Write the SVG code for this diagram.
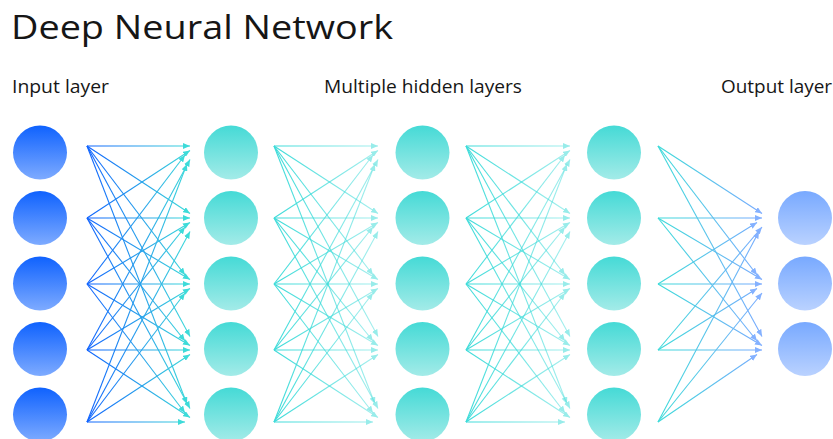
<svg xmlns="http://www.w3.org/2000/svg" width="833" height="439" viewBox="0 0 833 439">
  <defs>
    <!-- node fills -->
    <linearGradient id="fillInput" x1="0" y1="0" x2="0" y2="1">
      <stop offset="0" stop-color="#0f62fe"/>
      <stop offset="1" stop-color="#7eabff"/>
    </linearGradient>
    <linearGradient id="fillHidden" x1="0" y1="0" x2="0" y2="1">
      <stop offset="0" stop-color="#45dad6"/>
      <stop offset="1" stop-color="#a3ebe8"/>
    </linearGradient>
    <linearGradient id="fillOutput" x1="0" y1="0" x2="0" y2="1">
      <stop offset="0" stop-color="#78a9ff"/>
      <stop offset="1" stop-color="#bad2ff"/>
    </linearGradient>
    <!-- connector strokes, one per layer gap -->
    <linearGradient id="strokeA" gradientUnits="userSpaceOnUse" x1="87" y1="0" x2="190" y2="0">
      <stop offset="0" stop-color="#0f62fe"/>
      <stop offset="1" stop-color="#3ddbd9"/>
    </linearGradient>
    <linearGradient id="strokeB" gradientUnits="userSpaceOnUse" x1="274" y1="0" x2="378" y2="0">
      <stop offset="0" stop-color="#3ddbd9"/>
      <stop offset="1" stop-color="#3ddbd9" stop-opacity="0.45"/>
    </linearGradient>
    <linearGradient id="strokeC" gradientUnits="userSpaceOnUse" x1="466" y1="0" x2="570" y2="0">
      <stop offset="0" stop-color="#3ddbd9"/>
      <stop offset="1" stop-color="#3ddbd9" stop-opacity="0.45"/>
    </linearGradient>
    <linearGradient id="strokeD" gradientUnits="userSpaceOnUse" x1="658" y1="0" x2="762" y2="0">
      <stop offset="0" stop-color="#3ddbd9"/>
      <stop offset="1" stop-color="#78a9ff"/>
    </linearGradient>
    <marker id="headA" markerUnits="userSpaceOnUse" markerWidth="7" markerHeight="6" refX="7" refY="3" orient="auto">
      <path d="M0,0 L7,3 L0,6 z" fill="#3ddbd9"/>
    </marker>
    <marker id="headB" markerUnits="userSpaceOnUse" markerWidth="7" markerHeight="6" refX="7" refY="3" orient="auto">
      <path d="M0,0 L7,3 L0,6 z" fill="#98ecea"/>
    </marker>
    <marker id="headD" markerUnits="userSpaceOnUse" markerWidth="7" markerHeight="6" refX="7" refY="3" orient="auto">
      <path d="M0,0 L7,3 L0,6 z" fill="#84b1ff"/>
    </marker>
  </defs>
  <style>
    .title { font-family: "Open Sans", "Noto Sans", "Liberation Sans", sans-serif; font-size: 33.5px; fill: #161616; }
    .label { font-family: "Open Sans", "Noto Sans", "Liberation Sans", sans-serif; font-size: 18.5px; fill: #161616; }
    .input { fill: url(#fillInput); }
    .hidden { fill: url(#fillHidden); }
    .output { fill: url(#fillOutput); }
    .edge { fill: none; stroke-width: 1.1; }
    .ga line { stroke: url(#strokeA); marker-end: url(#headA); }
    .gb line { stroke: url(#strokeB); marker-end: url(#headB); }
    .gc line { stroke: url(#strokeC); marker-end: url(#headB); }
    .gd line { stroke: url(#strokeD); marker-end: url(#headD); }
  </style>

  <rect width="833" height="439" fill="#ffffff"/>

  <text class="title" x="11" y="38.5" textLength="382" lengthAdjust="spacingAndGlyphs">Deep Neural Network</text>
  <text class="label" x="12" y="93" textLength="97" lengthAdjust="spacingAndGlyphs">Input layer</text>
  <text class="label" x="324" y="93" textLength="198" lengthAdjust="spacingAndGlyphs">Multiple hidden layers</text>
  <text class="label" x="721" y="93" textLength="111" lengthAdjust="spacingAndGlyphs">Output layer</text>

  <g id="connectors" class="edge">
    <!-- input layer -> hidden layer 1 -->
    <g class="ga">
      <line x1="87" y1="146" x2="190" y2="146"/>
      <line x1="87" y1="146" x2="190" y2="213.5"/>
      <line x1="87" y1="146" x2="185" y2="275"/>
      <line x1="87" y1="146" x2="190" y2="336.5"/>
      <line x1="87" y1="146" x2="187" y2="404"/>
      <line x1="87" y1="218" x2="190" y2="150.5"/>
      <line x1="87" y1="218" x2="190" y2="218"/>
      <line x1="87" y1="218" x2="190" y2="279.5"/>
      <line x1="87" y1="218" x2="185" y2="341"/>
      <line x1="87" y1="218" x2="190" y2="408.5"/>
      <line x1="87" y1="284" x2="185" y2="155"/>
      <line x1="87" y1="284" x2="190" y2="222.5"/>
      <line x1="87" y1="284" x2="190" y2="284"/>
      <line x1="87" y1="284" x2="190" y2="345.5"/>
      <line x1="87" y1="284" x2="185" y2="413"/>
      <line x1="87" y1="350" x2="190" y2="159.5"/>
      <line x1="87" y1="350" x2="185" y2="227"/>
      <line x1="87" y1="350" x2="190" y2="288.5"/>
      <line x1="87" y1="350" x2="190" y2="350"/>
      <line x1="87" y1="350" x2="190" y2="417.5"/>
      <line x1="87" y1="422" x2="187" y2="164"/>
      <line x1="87" y1="422" x2="190" y2="231.5"/>
      <line x1="87" y1="422" x2="185" y2="293"/>
      <line x1="87" y1="422" x2="190" y2="354.5"/>
      <line x1="87" y1="422" x2="185" y2="422"/>
    </g>
    <!-- hidden layer 1 -> hidden layer 2 -->
    <g class="gb">
      <line x1="274" y1="146" x2="378" y2="146"/>
      <line x1="274" y1="146" x2="378" y2="213.5"/>
      <line x1="274" y1="146" x2="373" y2="275"/>
      <line x1="274" y1="146" x2="378" y2="336.5"/>
      <line x1="274" y1="146" x2="375" y2="404"/>
      <line x1="274" y1="218" x2="378" y2="150.5"/>
      <line x1="274" y1="218" x2="378" y2="218"/>
      <line x1="274" y1="218" x2="378" y2="279.5"/>
      <line x1="274" y1="218" x2="373" y2="341"/>
      <line x1="274" y1="218" x2="378" y2="408.5"/>
      <line x1="274" y1="284" x2="373" y2="155"/>
      <line x1="274" y1="284" x2="378" y2="222.5"/>
      <line x1="274" y1="284" x2="378" y2="284"/>
      <line x1="274" y1="284" x2="378" y2="345.5"/>
      <line x1="274" y1="284" x2="373" y2="413"/>
      <line x1="274" y1="350" x2="378" y2="159.5"/>
      <line x1="274" y1="350" x2="373" y2="227"/>
      <line x1="274" y1="350" x2="378" y2="288.5"/>
      <line x1="274" y1="350" x2="378" y2="350"/>
      <line x1="274" y1="350" x2="378" y2="417.5"/>
      <line x1="274" y1="422" x2="375" y2="164"/>
      <line x1="274" y1="422" x2="378" y2="231.5"/>
      <line x1="274" y1="422" x2="373" y2="293"/>
      <line x1="274" y1="422" x2="378" y2="354.5"/>
      <line x1="274" y1="422" x2="373" y2="422"/>
    </g>
    <!-- hidden layer 2 -> hidden layer 3 -->
    <g class="gc">
      <line x1="466" y1="146" x2="570" y2="146"/>
      <line x1="466" y1="146" x2="570" y2="213.5"/>
      <line x1="466" y1="146" x2="565" y2="275"/>
      <line x1="466" y1="146" x2="570" y2="336.5"/>
      <line x1="466" y1="146" x2="567" y2="404"/>
      <line x1="466" y1="218" x2="570" y2="150.5"/>
      <line x1="466" y1="218" x2="570" y2="218"/>
      <line x1="466" y1="218" x2="570" y2="279.5"/>
      <line x1="466" y1="218" x2="565" y2="341"/>
      <line x1="466" y1="218" x2="570" y2="408.5"/>
      <line x1="466" y1="284" x2="565" y2="155"/>
      <line x1="466" y1="284" x2="570" y2="222.5"/>
      <line x1="466" y1="284" x2="570" y2="284"/>
      <line x1="466" y1="284" x2="570" y2="345.5"/>
      <line x1="466" y1="284" x2="565" y2="413"/>
      <line x1="466" y1="350" x2="570" y2="159.5"/>
      <line x1="466" y1="350" x2="565" y2="227"/>
      <line x1="466" y1="350" x2="570" y2="288.5"/>
      <line x1="466" y1="350" x2="570" y2="350"/>
      <line x1="466" y1="350" x2="570" y2="417.5"/>
      <line x1="466" y1="422" x2="567" y2="164"/>
      <line x1="466" y1="422" x2="570" y2="231.5"/>
      <line x1="466" y1="422" x2="565" y2="293"/>
      <line x1="466" y1="422" x2="570" y2="354.5"/>
      <line x1="466" y1="422" x2="565" y2="422"/>
    </g>
    <!-- hidden layer 3 -> output layer -->
    <g class="gd">
      <line x1="658" y1="146" x2="762" y2="213.5"/>
      <line x1="658" y1="146" x2="757" y2="275"/>
      <line x1="658" y1="146" x2="762" y2="336.5"/>
      <line x1="658" y1="218" x2="762" y2="218"/>
      <line x1="658" y1="218" x2="762" y2="279.5"/>
      <line x1="658" y1="218" x2="757" y2="341"/>
      <line x1="658" y1="284" x2="757" y2="222.5"/>
      <line x1="658" y1="284" x2="762" y2="284"/>
      <line x1="658" y1="284" x2="762" y2="345.5"/>
      <line x1="658" y1="350" x2="762" y2="227"/>
      <line x1="658" y1="350" x2="757" y2="288.5"/>
      <line x1="658" y1="350" x2="762" y2="350"/>
      <line x1="658" y1="422" x2="759" y2="231.5"/>
      <line x1="658" y1="422" x2="762" y2="293"/>
      <line x1="658" y1="422" x2="757" y2="354.5"/>
    </g>
  </g>

  <!-- input layer -->
  <g id="in1"><circle class="input" cx="40" cy="152.5" r="27"/></g>
  <g id="in2"><circle class="input" cx="40" cy="218" r="27"/></g>
  <g id="in3"><circle class="input" cx="40" cy="283.5" r="27"/></g>
  <g id="in4"><circle class="input" cx="40" cy="349" r="27"/></g>
  <g id="in5"><circle class="input" cx="40" cy="414.5" r="27"/></g>

  <!-- hidden layer 1 -->
  <g id="h1n1"><circle class="hidden" cx="231" cy="152.5" r="27"/></g>
  <g id="h1n2"><circle class="hidden" cx="231" cy="218" r="27"/></g>
  <g id="h1n3"><circle class="hidden" cx="231" cy="283.5" r="27"/></g>
  <g id="h1n4"><circle class="hidden" cx="231" cy="349" r="27"/></g>
  <g id="h1n5"><circle class="hidden" cx="231" cy="414.5" r="27"/></g>

  <!-- hidden layer 2 -->
  <g id="h2n1"><circle class="hidden" cx="422.5" cy="152.5" r="27"/></g>
  <g id="h2n2"><circle class="hidden" cx="422.5" cy="218" r="27"/></g>
  <g id="h2n3"><circle class="hidden" cx="422.5" cy="283.5" r="27"/></g>
  <g id="h2n4"><circle class="hidden" cx="422.5" cy="349" r="27"/></g>
  <g id="h2n5"><circle class="hidden" cx="422.5" cy="414.5" r="27"/></g>

  <!-- hidden layer 3 -->
  <g id="h3n1"><circle class="hidden" cx="614" cy="152.5" r="27"/></g>
  <g id="h3n2"><circle class="hidden" cx="614" cy="218" r="27"/></g>
  <g id="h3n3"><circle class="hidden" cx="614" cy="283.5" r="27"/></g>
  <g id="h3n4"><circle class="hidden" cx="614" cy="349" r="27"/></g>
  <g id="h3n5"><circle class="hidden" cx="614" cy="414.5" r="27"/></g>

  <!-- output layer -->
  <g id="out1"><circle class="output" cx="805" cy="218" r="27"/></g>
  <g id="out2"><circle class="output" cx="805" cy="283.5" r="27"/></g>
  <g id="out3"><circle class="output" cx="805" cy="349" r="27"/></g>
</svg>
